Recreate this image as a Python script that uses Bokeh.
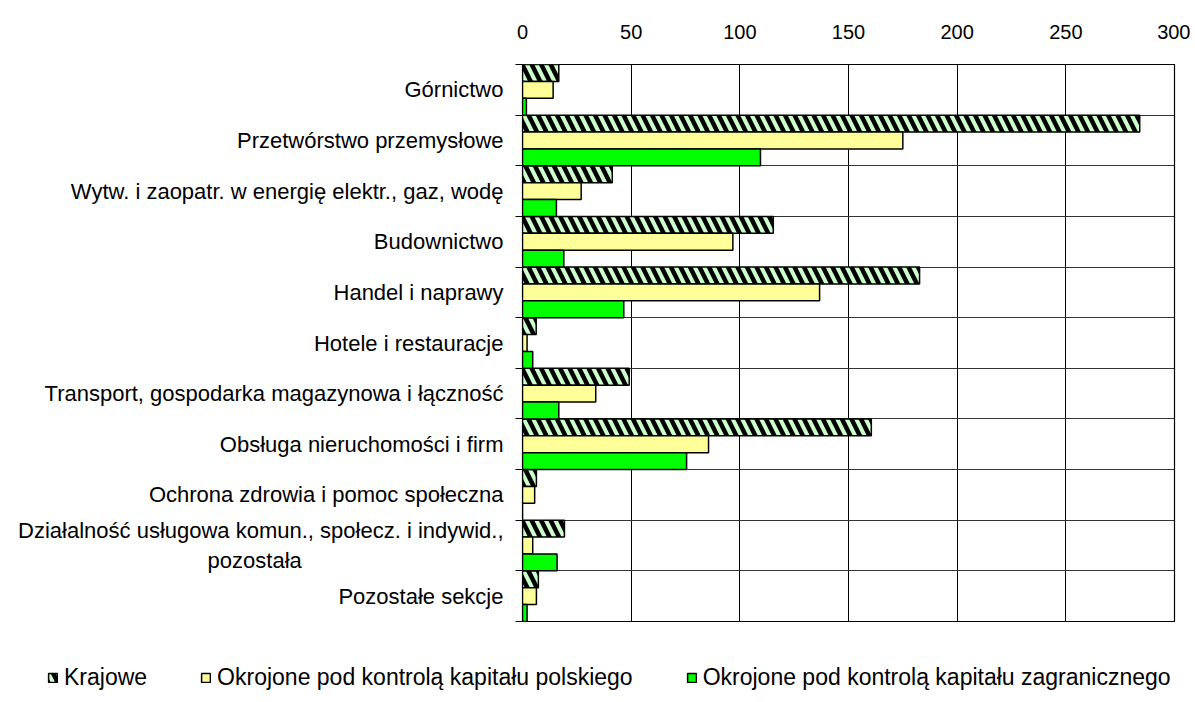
from bokeh.plotting import figure
from bokeh.models import Range1d, FixedTicker, Legend, LegendItem, ColumnDataSource
from bokeh.embed import file_html
from bokeh.resources import INLINE

categories = [
    "Górnictwo",
    "Przetwórstwo przemysłowe",
    "Wytw. i zaopatr. w energię elektr., gaz, wodę",
    "Budownictwo",
    "Handel i naprawy",
    "Hotele i restauracje",
    "Transport, gospodarka magazynowa i łączność",
    "Obsługa nieruchomości i firm",
    "Ochrona zdrowia i pomoc społeczna",
    "Działalność usługowa komun., społecz. i indywid.,\npozostała" + "\u00a0" * 33,
    "Pozostałe sekcje",
]
krajowe = [16.7, 284, 41.3, 115.4, 182.7, 6.3, 49.1, 160.5, 6.4, 19.3, 7.3]
polskie = [14.1, 175, 27, 96.8, 136.7, 2.1, 33.7, 85.6, 5.6, 4.7, 6.4]
zagraniczne = [1.8, 109.5, 15.6, 19, 46.6, 4.7, 16.7, 75.5, 0, 15.9, 2.1]
series_names = ["Krajowe",
                "Okrojone pod kontrolą kapitału polskiego",
                "Okrojone pod kontrolą kapitału zagranicznego"]
x_ticks = [0, 50, 100, 150, 200, 250, 300]

n = len(categories)
centers = [i + 0.5 for i in range(n)]
bounds = list(range(n + 1))

FONT = "Liberation Sans"

STYLES = [
    dict(fill_color="#CCFFCC", line_color="black", line_width=1.5,
         hatch_pattern="left_diagonal_line", hatch_color="black",
         hatch_weight=4.5, hatch_scale=19),
    dict(fill_color="#FFFF99", line_color="black", line_width=1.5),
    dict(fill_color="#00FF00", line_color="black", line_width=1.5),
]

p = figure(frame_width=652, frame_height=557, min_border_left=522, min_border_top=64,
           min_border_right=16, min_border_bottom=25,
           x_range=Range1d(0, 300), y_range=Range1d(n, 0),
           x_axis_location="above", output_backend="svg", toolbar_location=None,
           background_fill_color="white", border_fill_color="white")

p.outline_line_color = "black"
p.outline_line_width = 1.2

# grid
p.xgrid.ticker = FixedTicker(ticks=x_ticks)
p.xgrid.grid_line_color = "black"
p.xgrid.grid_line_width = 1
p.ygrid.ticker = FixedTicker(ticks=bounds)
p.ygrid.grid_line_color = "#333333"
p.ygrid.grid_line_width = 1

# x axis (top)
xa = p.xaxis[0]
xa.ticker = FixedTicker(ticks=x_ticks)
xa.axis_line_color = None
xa.major_tick_line_color = None
xa.minor_tick_line_color = None
xa.major_tick_out = 0
xa.major_tick_in = 0
xa.major_label_standoff = 26
xa.major_label_text_font = FONT
xa.major_label_text_font_size = "20px"
xa.major_label_text_color = "black"

# y axis
ya = p.yaxis[0]
ya.ticker = FixedTicker(ticks=centers, minor_ticks=bounds)
ya.major_label_overrides = {c: categories[i] for i, c in enumerate(centers)}
ya.axis_line_color = "black"
ya.major_tick_line_color = None
ya.major_tick_out = 0
ya.major_tick_in = 0
ya.minor_tick_line_color = "black"
ya.minor_tick_out = 7
ya.minor_tick_in = 0
ya.major_label_standoff = 12
ya.major_label_text_font = FONT
ya.major_label_text_font_size = "22px"
ya.major_label_text_color = "black"

third = 1.0 / 3.0
src_k = ColumnDataSource(dict(y=[i + third / 2 for i in range(n)], v=krajowe))
src_p = ColumnDataSource(dict(y=[i + 0.5 for i in range(n)], v=polskie))
src_f = ColumnDataSource(dict(y=[i + 1 - third / 2 for i in range(n)], v=zagraniczne))

for src, st in zip([src_k, src_p, src_f], STYLES):
    p.hbar(y="y", right="v", left=0, height=third, source=src, **st)

# legend strip below the chart (separate root, full-width frame)
lg = figure(width=1195, height=56, min_border=0, x_range=Range1d(0, 1), y_range=Range1d(0, 1),
            output_backend="svg", toolbar_location=None, outline_line_color=None,
            background_fill_color="white", border_fill_color="white")
lg.axis.visible = False
lg.grid.visible = False
items = []
for name, st in zip(series_names, STYLES):
    # swatch carriers placed outside the visible range; only their legend glyphs show
    r = lg.hbar(y=[-5], right=[0], left=0, height=0.3, **st)
    items.append(LegendItem(label=name, renderers=[r]))

legend = Legend(items=items, orientation="horizontal", location=(47, 11),
                label_text_font=FONT, label_text_font_size="23px", label_text_color="black",
                glyph_width=11, glyph_height=11, label_standoff=6, spacing=53,
                padding=0, margin=0, border_line_color=None,
                background_fill_alpha=0, label_height=22)
lg.add_layout(legend, "center")

open("out.html", "w").write(file_html([p, lg], INLINE))
